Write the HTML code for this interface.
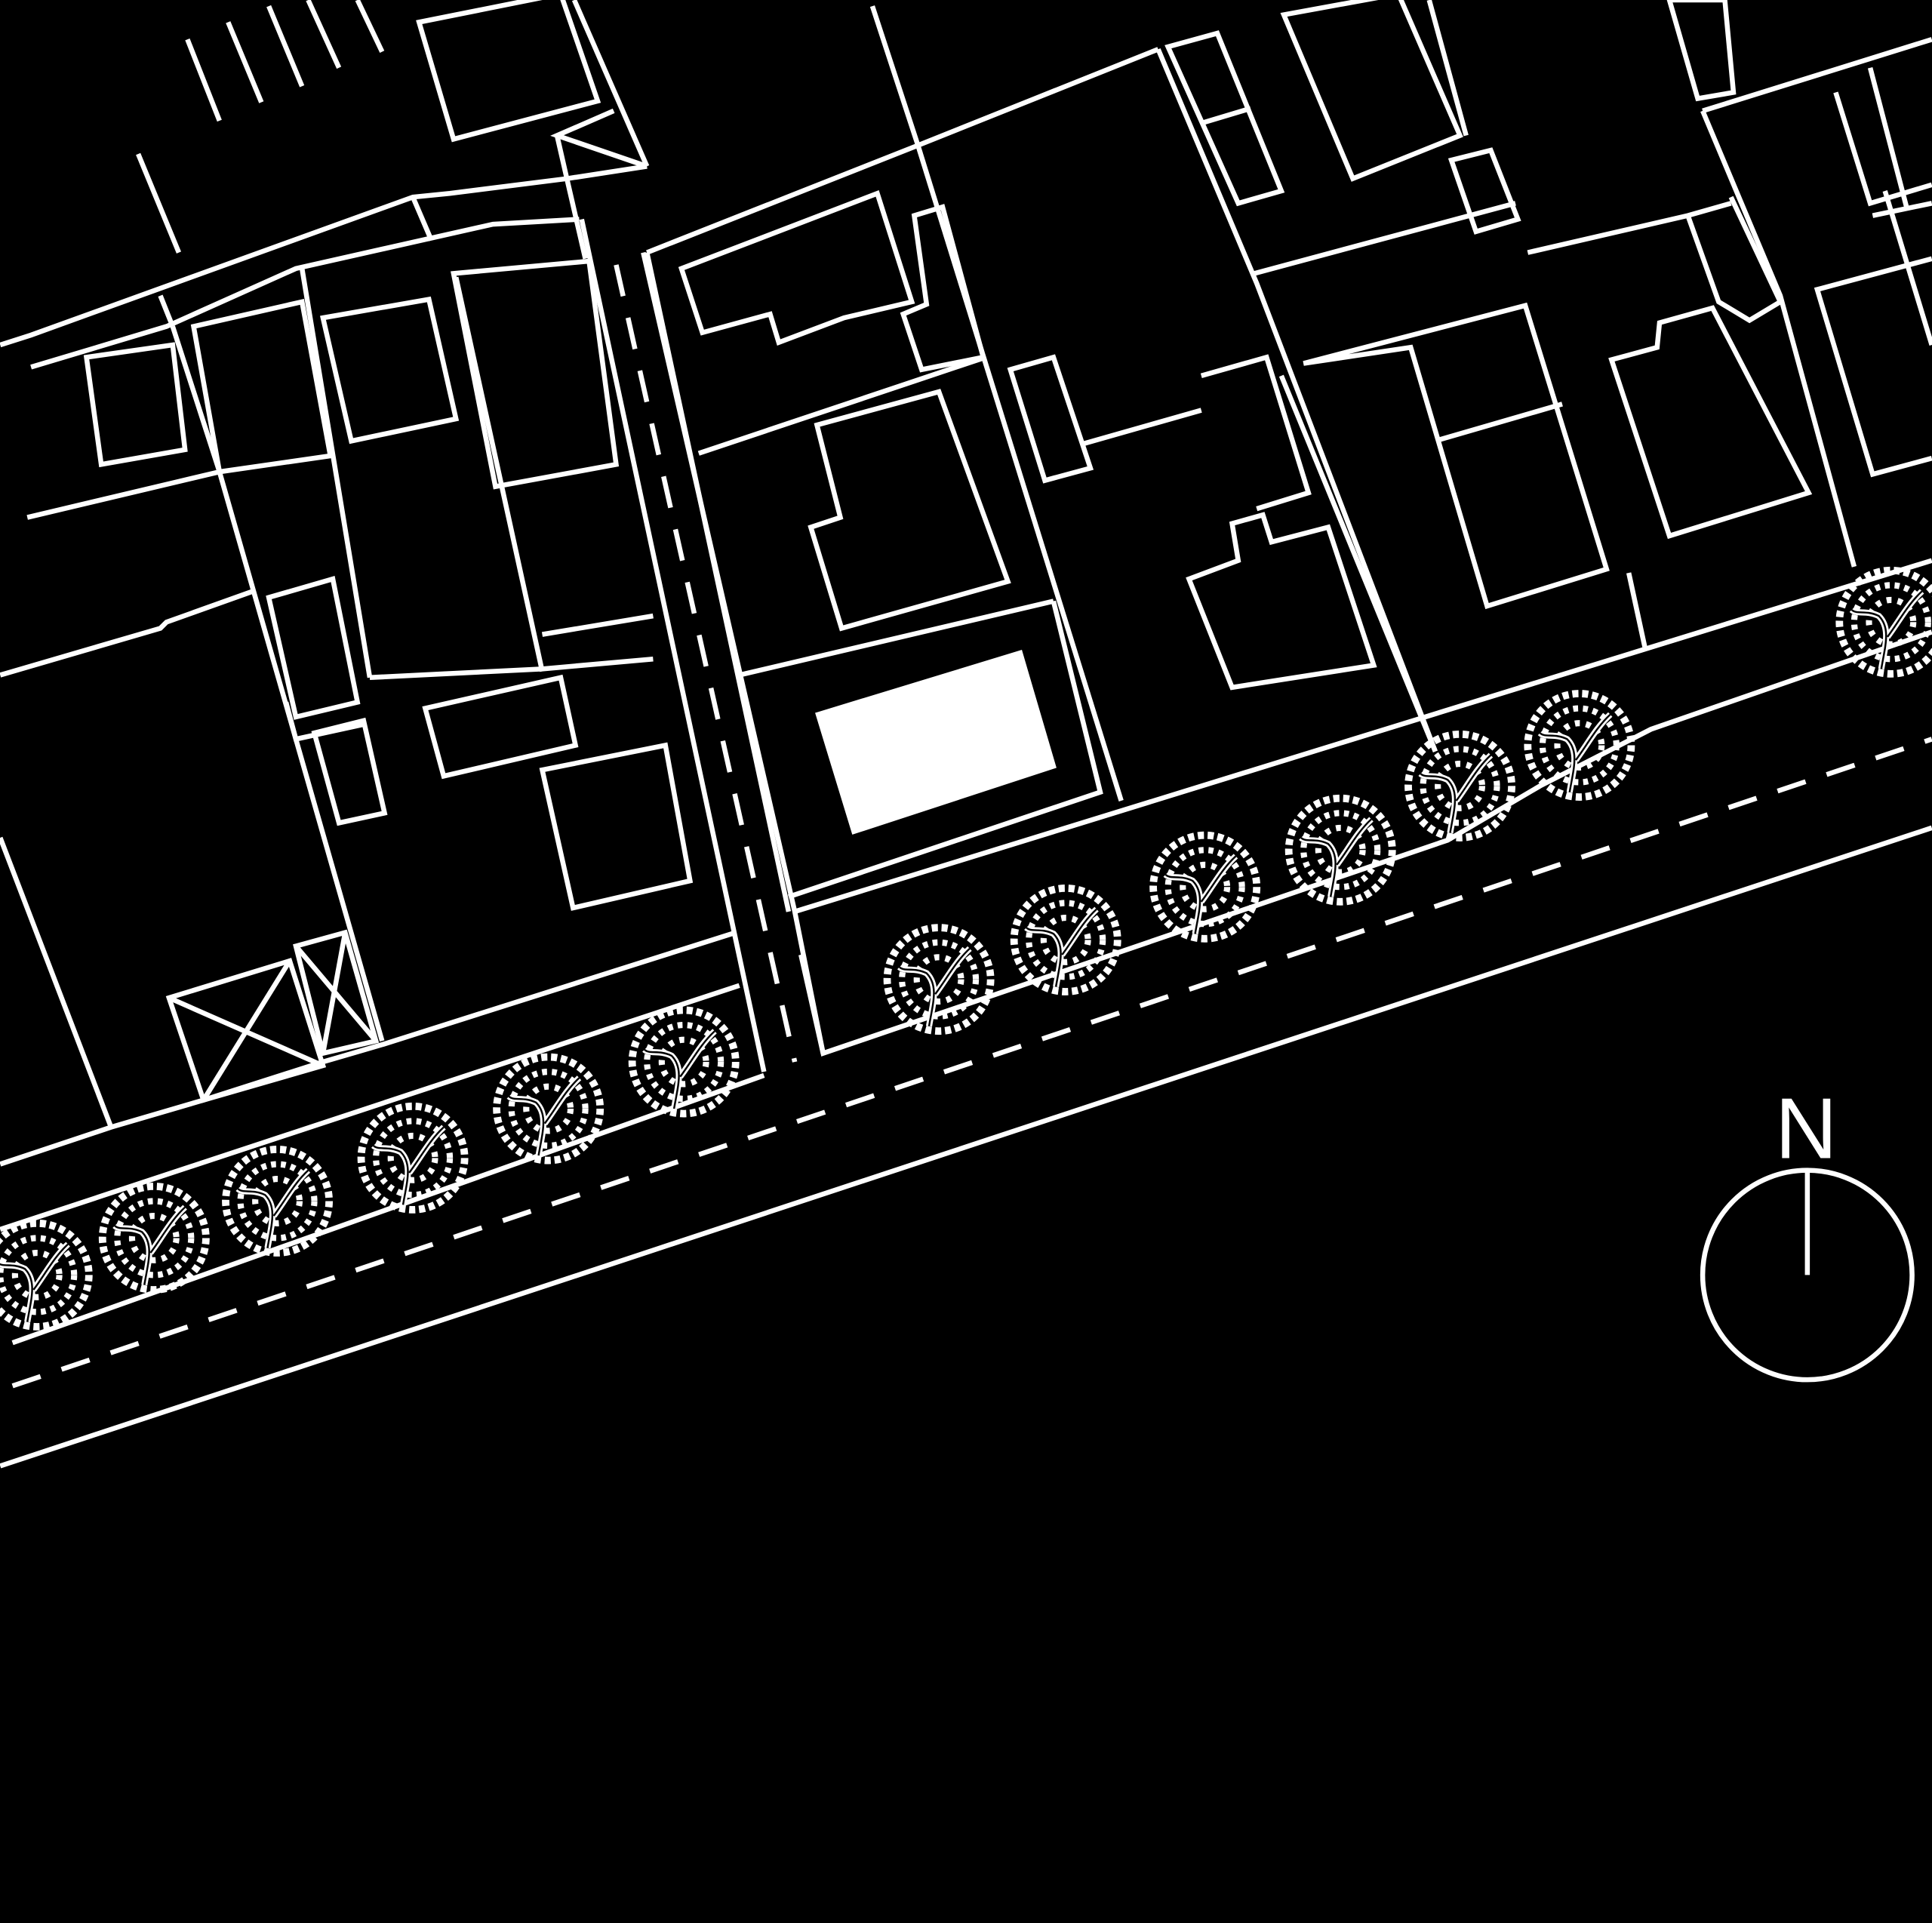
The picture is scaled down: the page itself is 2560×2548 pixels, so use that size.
<!DOCTYPE html>
<html><head><meta charset="utf-8"><style>
html,body{margin:0;padding:0;background:#000;}
svg{display:block;}
</style></head><body>
<svg width="2560" height="2548" viewBox="0 0 1568 1561" xmlns="http://www.w3.org/2000/svg">
<defs>
<g id="tree" fill="none" stroke="#fff">
  <circle r="42" stroke-width="6" stroke-dasharray="5 3"/>
  <circle r="30" stroke-width="5" stroke-dasharray="4 4"/>
  <circle r="18" stroke-width="5" stroke-dasharray="4 5"/>
  <path d="M-8 38 C-5 20 0 5 -10 -5 C-20 -10 -28 -6 -32 -10 M-3 12 C6 0 14 -15 25 -25" stroke-width="5"/>
  <path d="M-8 38 C-5 20 0 5 -10 -5 C-20 -10 -28 -6 -32 -10 M-3 12 C6 0 14 -15 25 -25" stroke="#000" stroke-width="1.5"/>
</g>
</defs>
<rect width="1568" height="1561" fill="#000"/>
<g fill="none" stroke="#fff" stroke-width="4" stroke-linejoin="miter">
<!-- street -->
<line x1="0" y1="1190" x2="1568" y2="672"/>
<line x1="10" y1="1125" x2="1568" y2="600" stroke-dasharray="24 18"/>
<polyline points="0,945 90,915 165,893 262,862 310,848 597,757"/>
<line x1="0" y1="998" x2="600" y2="800"/>
<line x1="10" y1="1090" x2="620" y2="873"/>
<!-- crosswalk-like hatch -->
<line x1="152" y1="32" x2="178" y2="98"/>
<line x1="185" y1="18" x2="212" y2="83"/>
<line x1="218" y1="5" x2="245" y2="70"/>
<line x1="250" y1="0" x2="275" y2="55"/>
<line x1="290" y1="0" x2="310" y2="42"/>
<line x1="112" y1="125" x2="145" y2="205"/>
<polygon points="340,18 455,-5 485,82 368,113"/>
<line x1="466" y1="0" x2="525" y2="135"/>
<polyline points="525,135 452,110 498,90"/>
<polyline points="452,110 460,145 475,210"/>
<polyline points="0,280 25,272 335,160 365,157 460,145 525,135"/>
<line x1="335" y1="160" x2="350" y2="195"/>
<polyline points="25,298 135,265 240,218 400,182 470,178"/>
<line x1="130" y1="240" x2="140" y2="265"/>
<polygon points="70,290 140,280 150,365 82,377"/>
<polygon points="157,265 245,245 268,370 178,383"/>
<line x1="22" y1="420" x2="178" y2="383"/>
<polygon points="262,258 348,243 370,340 285,358"/>
<polygon points="368,222 478,212 500,377 402,395"/>
<line x1="370" y1="225" x2="440" y2="545"/>
<line x1="245" y1="218" x2="300" y2="550"/>
<polyline points="140,265 178,383 240,600 310,845"/>
<polyline points="0,548 130,510 135,505 205,480"/>
<polygon points="218,485 270,470 290,570 240,582"/>
<polyline points="232,570 240,600 295,588"/>
<polyline points="300,550 440,543 530,535"/>
<line x1="440" y1="515" x2="530" y2="500"/>
<line x1="0" y1="680" x2="90" y2="915"/>
<polygon points="255,595 295,585 312,660 275,668"/>
<polygon points="345,575 455,550 467,605 360,630"/>
<polygon points="440,625 540,605 560,715 465,737"/>
<polygon points="137,810 235,780 262,865 165,893"/>
<line x1="137" y1="810" x2="262" y2="865"/><line x1="235" y1="780" x2="165" y2="893"/>
<polygon points="240,768 280,757 305,845 262,855"/>
<line x1="240" y1="768" x2="305" y2="845"/><line x1="280" y1="757" x2="262" y2="855"/>
<!-- road -->
<line x1="472" y1="178" x2="620" y2="870"/>
<line x1="500" y1="215" x2="645" y2="862" stroke-dasharray="26 18"/>
<polyline points="522,205 645,740 668,855"/>
<!-- right block -->
<polyline points="525,205 745,118 940,40"/>
<line x1="708" y1="5" x2="745" y2="118"/>
<line x1="745" y1="118" x2="910" y2="650"/>
<polygon points="553,218 712,157 740,245 685,258 632,278 625,255 570,270"/>
<polygon points="742,175 765,168 798,290 748,300 733,255 752,247"/>
<line x1="567" y1="368" x2="800" y2="290"/>
<line x1="525" y1="205" x2="640" y2="740"/>
<polygon points="663,345 762,318 818,472 683,510 658,428 682,420"/>
<line x1="600" y1="548" x2="855" y2="488"/>
<polygon points="664,580 828,530 855,622 693,675" fill="#fff"/>
<polyline points="855,488 893,643 640,728"/>
<line x1="645" y1="740" x2="1568" y2="455"/>
<polyline points="650,775 668,855 1175,682 1250,638 1340,592 1568,513"/>
<polygon points="820,300 855,290 885,380 848,390"/>
<line x1="880" y1="360" x2="975" y2="333"/>
<polyline points="975,305 1028,290 1062,400 1020,413"/>
<polygon points="965,470 1005,455 1000,425 1025,418 1032,440 1078,428 1115,540 1000,558"/>
<polyline points="940,40 1020,230 1165,610"/>
<polyline points="1018,222 1230,165"/>
<polygon points="948,38 988,27 1040,155 1005,165"/>
<line x1="975" y1="100" x2="1015" y2="88"/>
<polygon points="1042,12 1135,-5 1185,110 1098,145"/>
<line x1="1160" y1="0" x2="1190" y2="110"/>
<polygon points="1178,130 1210,122 1232,178 1198,188"/>
<polyline points="1240,205 1370,175 1405,165"/>
<line x1="1040" y1="305" x2="1165" y2="610"/>
<polygon points="1058,295 1238,248 1304,462 1207,492 1145,282"/>
<line x1="1168" y1="357" x2="1268" y2="328"/>
<polygon points="1308,292 1345,282 1347,262 1390,250 1468,400 1355,435"/>
<polyline points="1370,175 1395,245 1420,260 1445,245 1405,160"/>
<polygon points="1355,0 1400,0 1407,75 1378,80"/>
<line x1="1382" y1="90" x2="1568" y2="32"/>
<polyline points="1382,90 1445,240 1505,460"/>
<polyline points="1490,75 1518,165 1568,150"/>
<polyline points="1518,55 1548,170"/>
<polyline points="1568,210 1475,235 1520,385 1568,372"/>
<line x1="1520" y1="175" x2="1568" y2="165"/>
<polyline points="1322,465 1335,525"/>
<line x1="1530" y1="155" x2="1568" y2="280"/>
<!-- north arrow -->
<circle cx="1467" cy="1035" r="85"/>
<line x1="1467" y1="950" x2="1467" y2="1035"/>
</g>
<text x="1466" y="940" fill="#fff" font-family="Liberation Sans, sans-serif" font-size="70" text-anchor="middle">N</text>
<g>
<use href="#tree" x="30" y="1035"/>
<use href="#tree" x="125" y="1005"/>
<use href="#tree" x="225" y="975"/>
<use href="#tree" x="335" y="940"/>
<use href="#tree" x="445" y="900"/>
<use href="#tree" x="555" y="862"/>
<use href="#tree" x="762" y="795"/>
<use href="#tree" x="865" y="763"/>
<use href="#tree" x="978" y="720"/>
<use href="#tree" x="1088" y="690"/>
<use href="#tree" x="1185" y="638"/>
<use href="#tree" x="1282" y="605"/>
<use href="#tree" x="1535" y="505"/>
</g>
</svg>
</body></html>
